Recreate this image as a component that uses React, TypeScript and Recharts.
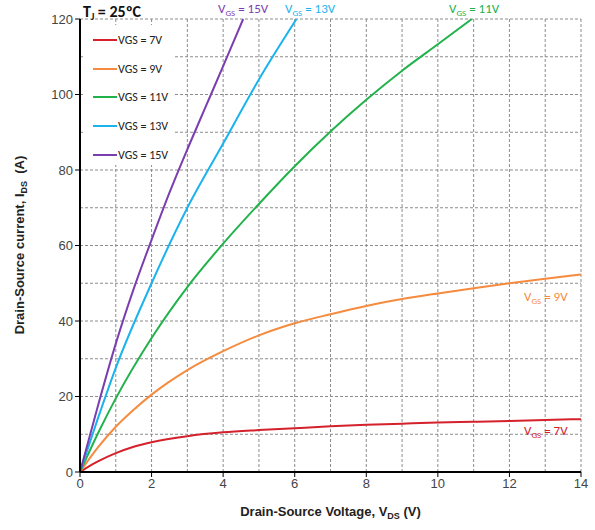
import React from "react"
import { LineChart, Line, XAxis, YAxis, CartesianGrid, ReferenceLine } from "recharts"

// V_DS (V) / I_DS (A), one array per gate voltage
const vgs7 = [
  [0, 0], [0.25, 1.5], [0.5, 2.8], [1, 5], [1.5, 6.7], [2, 7.9], [3, 9.5], [4, 10.5], [5, 11.1],
  [6, 11.6], [7, 12.1], [8, 12.5], [9, 12.8], [10, 13.1], [11, 13.3], [12, 13.5], [13, 13.8], [14, 14],
]
const vgs9 = [
  [0, 0], [0.5, 6.5], [1, 12], [1.5, 16.5], [2, 20.5], [3, 27], [4, 32], [5, 36.2], [6, 39.4],
  [7, 41.8], [8, 44], [9, 45.8], [10, 47.3], [11, 48.7], [12, 50], [13, 51.2], [14, 52.3],
]
const vgs11 = [
  [0, 0], [0.5, 10.2], [1, 19.5], [2, 35.5], [3, 49], [4, 60.5], [5, 71], [6, 81], [7, 90.2],
  [8, 98.6], [9, 106.3], [10, 113.3], [10.95, 120],
]
const vgs13 = [
  [0, 0], [0.5, 14.2], [1, 27.6], [2, 50], [3, 70], [4, 87], [5, 104], [6.05, 120],
]
const vgs15 = [
  [0, 0], [0.5, 17.5], [1, 34], [1.5, 48.5], [2, 61.5], [2.5, 74], [3, 85.5], [3.5, 96.5], [4, 107.5], [4.56, 120],
]

const seriesNames = ["VGS = 7V", "VGS = 9V", "VGS = 11V", "VGS = 13V", "VGS = 15V"]
const seriesColors = ["#d4212b", "#f58b3f", "#22b24c", "#1bb3ee", "#7a3eb1"]
const seriesData = [vgs7, vgs9, vgs11, vgs13, vgs15]

const xTicks = [0, 2, 4, 6, 8, 10, 12, 14]
const yTicks = [0, 20, 40, 60, 80, 100, 120]
const xGrid = [1, 2, 3, 4, 5, 6, 7, 8, 9, 10, 11, 12, 13, 14]
const yGrid = [10, 20, 30, 40, 50, 60, 70, 80, 90, 100, 110, 120]

const toPoints = (arr: number[][]) => arr.map(([v, i]) => ({ v, i }))

const calibri = "Carlito, Lato, 'Open Sans', sans-serif"
const arial = "'Liberation Sans', Arial, sans-serif"

function Vgs({ color, value, style }: { color: string; value: string; style: React.CSSProperties }) {
  return (
    <div style={{ position: "absolute", color, fontFamily: calibri, fontSize: 13, whiteSpace: "nowrap", ...style }}>
      V<sub style={{ fontSize: 9, verticalAlign: "-3px" }}>GS</sub> = {value}
    </div>
  )
}

export default function App() {
  return (
    <div style={{ position: "absolute", left: 0, top: 0, width: 595, height: 530, background: "#fff" }}>
      <LineChart width={595} height={530} margin={{ top: 19, right: 14, bottom: 28, left: 30 }}>
        <CartesianGrid horizontal={false} vertical={false} />
        {xGrid.map((x) => (
          <ReferenceLine key={"x" + x} x={x} stroke="#8c8c8c" strokeDasharray="3 2" strokeWidth={1} />
        ))}
        {yGrid.map((y) => (
          <ReferenceLine key={"y" + y} y={y} stroke="#8c8c8c" strokeDasharray="3 2" strokeWidth={1} />
        ))}
        <XAxis
          type="number"
          dataKey="v"
          domain={[0, 14]}
          ticks={xTicks}
          height={30}
          axisLine={{ stroke: "#000", strokeWidth: 2 }}
          tickLine={{ stroke: "#000" }}
          tickSize={5}
          tick={{ fill: "#444", fontSize: 13, fontFamily: arial }}
          allowDataOverflow
        />
        <YAxis
          type="number"
          dataKey="i"
          domain={[0, 120]}
          ticks={yTicks}
          width={50}
          axisLine={{ stroke: "#000", strokeWidth: 2 }}
          tickLine={{ stroke: "#000" }}
          tickSize={5}
          tick={{ fill: "#444", fontSize: 13, fontFamily: arial }}
          allowDataOverflow
        />
        {seriesData.map((d, k) => (
          <Line
            key={seriesNames[k]}
            data={toPoints(d)}
            dataKey="i"
            type="monotone"
            stroke={seriesColors[k]}
            strokeWidth={2}
            dot={false}
            isAnimationActive={false}
          />
        ))}
      </LineChart>

      {/* legend */}
      <div
        style={{
          position: "absolute", left: 83, top: 25, width: 90, height: 140, background: "#fff",
          fontFamily: calibri, fontSize: 12, color: "#222",
        }}
      >
        {seriesNames.map((n, k) => (
          <div key={n} style={{ position: "absolute", left: 10, top: 7 + k * 28.7, display: "flex", alignItems: "center", height: 16, whiteSpace: "nowrap" }}>
            <span style={{ display: "inline-block", width: 24, height: 2, background: seriesColors[k] }} />
            <span style={{ marginLeft: 1 }}>{n}</span>
          </div>
        ))}
      </div>

      <div style={{ position: "absolute", left: 83, top: 2, fontFamily: calibri, fontSize: 16, fontWeight: 700, color: "#111" }}>
        T<sub style={{ fontSize: 10, verticalAlign: "-3px" }}>J</sub> = 25ºC
      </div>

      <Vgs color={seriesColors[4]} value="15V" style={{ left: 218, top: 1 }} />
      <Vgs color={seriesColors[3]} value="13V" style={{ left: 285, top: 1 }} />
      <Vgs color={seriesColors[2]} value="11V" style={{ left: 449, top: 1 }} />
      <Vgs color={seriesColors[1]} value="9V" style={{ left: 524, top: 289 }} />
      <Vgs color={seriesColors[0]} value="7V" style={{ left: 524, top: 423 }} />

      <div
        style={{
          position: "absolute", left: 80, width: 501, top: 504, textAlign: "center",
          fontFamily: arial, fontSize: 13, fontWeight: 700, color: "#222",
        }}
      >
        Drain-Source Voltage, V<sub style={{ fontSize: 9, verticalAlign: "-3px" }}>DS</sub> (V)
      </div>
      <div style={{ position: "absolute", left: 20, top: 245, width: 0, height: 0 }}>
        <div
          style={{
            position: "absolute", left: 0, top: 0, transform: "translate(-50%, -50%) rotate(-90deg)",
            whiteSpace: "nowrap", fontFamily: arial, fontSize: 13, fontWeight: 700, color: "#222",
          }}
        >
          Drain-Source current, I<sub style={{ fontSize: 9, verticalAlign: "-3px" }}>DS</sub>&nbsp; (A)
        </div>
      </div>
    </div>
  )
}
